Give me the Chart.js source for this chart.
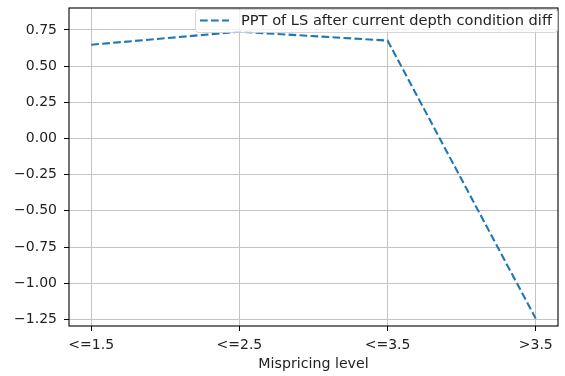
<!DOCTYPE html>
<html>
<head>
<meta charset="utf-8">
<script src="https://cdn.jsdelivr.net/npm/chart.js@4.4.0/dist/chart.umd.min.js"></script>
<style>
  html, body { margin: 0; padding: 0; background: #fff; }
  #wrap { width: 565px; height: 376px; }
</style>
</head>
<body>
<div id="wrap"><canvas id="line" width="565" height="376"></canvas></div>
<script>
"use strict";
var categories = ["<=1.5", "<=2.5", "<=3.5", ">3.5"];
var seriesLabel = "PPT of LS after current depth condition diff";
var seriesValues = [0.648, 0.738, 0.677, -1.245];
var yTicks = [-1.25, -1.0, -0.75, -0.5, -0.25, 0.0, 0.25, 0.5, 0.75];

var FONT = "'DejaVu Sans', 'Liberation Sans', sans-serif";
var TICK_SIZE = 14;
var TITLE_SIZE = 14.2;
var LEGEND_SIZE = 14.6;
var lineColor = "#1f77b4";

var points = seriesValues.map(function (v, i) { return { x: i, y: v }; });

var fmt = function (v) {
    var s = Math.abs(v).toFixed(2);
    return (v < -1e-9 ? "\u2212" : "") + s;
};

// frame on all four sides + legend drawn inside the plot area
var framePlugin = {
    id: "frame",
    afterDraw: function (chart) {
        var ctx = chart.ctx;
        var a = chart.chartArea;
        ctx.save();
        ctx.strokeStyle = "#000";
        ctx.lineWidth = 1.1;
        ctx.strokeRect(a.left, a.top, a.right - a.left, a.bottom - a.top);

        // legend box
        var x0 = 195, y0 = 9, w = 362, h = 23;
        ctx.fillStyle = "rgba(255,255,255,0.8)";
        ctx.strokeStyle = "rgba(204,204,204,0.8)";
        ctx.lineWidth = 1;
        ctx.beginPath();
        ctx.roundRect(x0 + 0.5, y0 + 0.5, w, h, 3);
        ctx.fill();
        ctx.stroke();

        var ds = chart.data.datasets[0];
        ctx.strokeStyle = ds.borderColor;
        ctx.lineWidth = ds.borderWidth;
        ctx.setLineDash(ds.borderDash);
        ctx.beginPath();
        ctx.moveTo(200, 20.5);
        ctx.lineTo(229, 20.5);
        ctx.stroke();
        ctx.setLineDash([]);

        ctx.fillStyle = "#222";
        ctx.font = LEGEND_SIZE + "px " + FONT;
        ctx.textBaseline = "middle";
        ctx.textAlign = "left";
        ctx.fillText(ds.label, 241, 21);
        ctx.restore();
    }
};

var c = document.getElementById("line");
var cCtx = c.getContext("2d");
// @ts-ignore
var line = new Chart(cCtx, {
    type: "line",
    data: {
        datasets: [
            {
                label: seriesLabel,
                data: points,
                borderColor: lineColor,
                backgroundColor: lineColor,
                borderWidth: 2.1,
                borderDash: [7.7, 3.3],
                pointRadius: 0,
                tension: 0,
                fill: false,
            },
        ],
    },
    options: {
        responsive: false,
        animation: false,
        events: [],
        layout: {
            padding: { left: 0, right: 7, top: 8, bottom: 0 },
        },
        plugins: {
            legend: { display: false },
            tooltip: { enabled: false },
        },
        scales: {
            x: {
                type: "linear",
                min: -0.15,
                max: 3.15,
                border: { display: false },
                grid: {
                    color: "#c4c4c4",
                    lineWidth: 1,
                    tickColor: "#000",
                    tickLength: 5,
                    tickWidth: 1,
                },
                ticks: {
                    stepSize: 1,
                    includeBounds: false,
                    autoSkip: false,
                    maxRotation: 0,
                    padding: 6,
                    color: "#222",
                    font: { family: FONT, size: TICK_SIZE },
                    callback: function (v) { return categories[v]; },
                },
                title: {
                    display: true,
                    text: "Mispricing level",
                    color: "#222",
                    font: { family: FONT, size: TITLE_SIZE },
                    padding: { top: 4, bottom: 3 },
                },
                afterFit: function (scale) {
                    scale.height = 50;
                    scale.paddingLeft = 0;
                    scale.paddingRight = 0;
                },
            },
            y: {
                type: "linear",
                min: -1.296,
                max: 0.902,
                border: { display: false },
                grid: {
                    color: "#c4c4c4",
                    lineWidth: 1,
                    tickColor: "#000",
                    tickLength: 5,
                    tickWidth: 1,
                },
                afterBuildTicks: function (scale) {
                    scale.ticks = yTicks.map(function (v) { return { value: v }; });
                },
                ticks: {
                    padding: 7,
                    color: "#222",
                    font: { family: FONT, size: TICK_SIZE },
                    callback: function (v) { return fmt(v); },
                },
                afterFit: function (scale) {
                    scale.width = 69;
                    scale.paddingTop = 0;
                    scale.paddingBottom = 0;
                },
            },
        },
    },
    plugins: [framePlugin],
});
</script>
</body>
</html>
